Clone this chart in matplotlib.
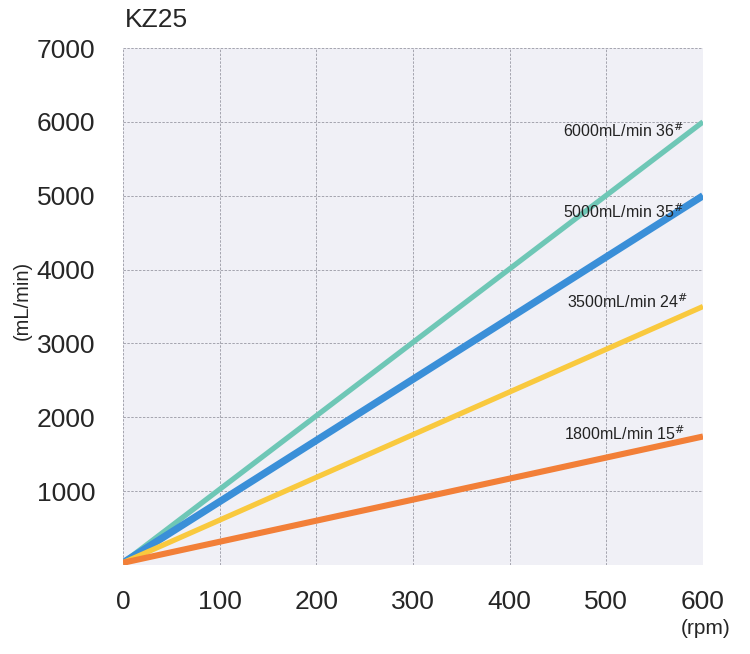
import matplotlib.pyplot as plt

# flow vs speed for the KZ25 pump heads
rpm = [0, 600]
tube_labels = ["6000mL/min 36", "5000mL/min 35", "3500mL/min 24", "1800mL/min 15"]
flow_36 = [30, 6000]
flow_35 = [30, 5000]
flow_24 = [30, 3500]
flow_15 = [30, 1740]
label_x = [580, 580, 584, 581]
label_y = [5880, 4790, 3560, 1780]

colors = ["#6ec7b6", "#3a8fd8", "#f9c93e", "#f27f38"]
widths = [3.8, 5.2, 3.8, 4.4]

plt.rcParams['font.family'] = ['Liberation Sans', 'DejaVu Sans']

fig = plt.figure(figsize=(7.5, 6.54), dpi=100)
ax = fig.add_axes([123 / 750, 1 - 565 / 654, 580 / 750, 517 / 654])
ax.set_facecolor("#f0f0f6")

for s in ax.spines.values():
    s.set_visible(False)
ax.grid(True, color="#a4a4ae", linestyle=(0, (2.5, 1.5)), linewidth=0.7)
ax.set_axisbelow(True)

for vals, c, w in zip([flow_36, flow_35, flow_24, flow_15], colors, widths):
    ax.plot(rpm, vals, color=c, linewidth=w, solid_capstyle="butt", zorder=3)

for lab, tx, ty in zip(tube_labels, label_x, label_y):
    ax.text(tx, ty, lab + r"$^{\#}$", ha="right", va="center", fontsize=11.5,
            family=["Liberation Sans Narrow", "Liberation Sans"], color="#222222", zorder=4)

ax.set_xlim(0, 600)
ax.set_ylim(0, 7000)
ax.set_xticks([0, 100, 200, 300, 400, 500, 600])
ax.set_yticks([0, 1000, 2000, 3000, 4000, 5000, 6000, 7000])
ax.set_yticklabels(["", "1000", "2000", "3000", "4000", "5000", "6000", "7000"])
ax.tick_params(length=0, labelsize=19, colors="#262626")
ax.tick_params(axis="x", pad=18)
ax.tick_params(axis="y", pad=20)

fig.text(125 / 750, 1 - 20 / 654, "KZ25", fontsize=19, color="#262626", va="center", ha="left")
fig.text(22 / 750, 1 - 300 / 654, "(mL/min)", fontsize=14.5, rotation=90, color="#262626",
         va="center", ha="center")
fig.text(706 / 750, 1 - 628 / 654, "(rpm)", fontsize=15, color="#262626", va="center", ha="center")

fig.savefig("out.png", dpi=100, facecolor="white")
